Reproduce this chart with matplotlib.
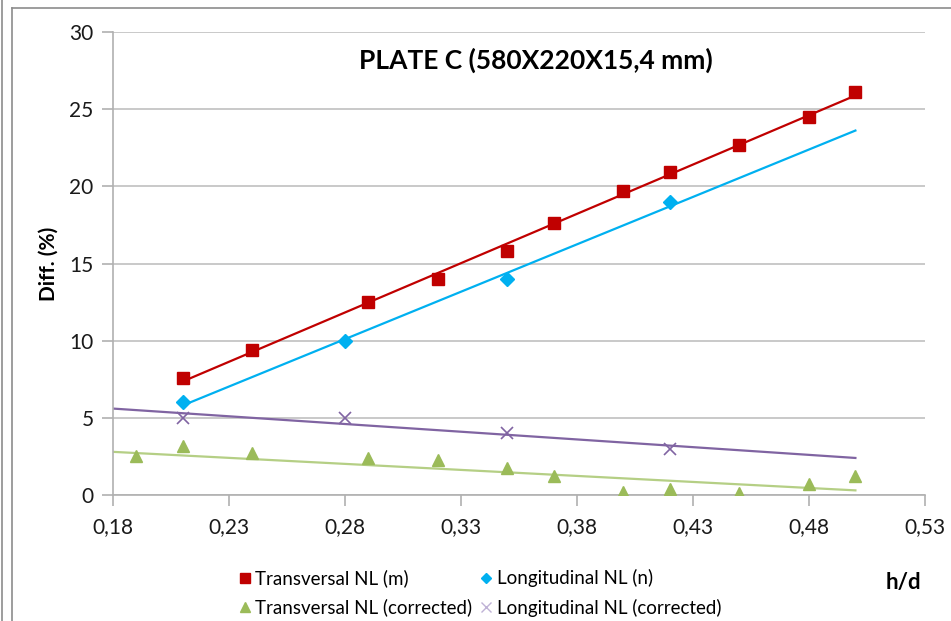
import numpy as np
import matplotlib
matplotlib.use("Agg")
import matplotlib.pyplot as plt
from matplotlib.lines import Line2D
from matplotlib.ticker import FuncFormatter, MultipleLocator

plt.rcParams['font.family'] = ['Lato', 'DejaVu Sans']

# Data
trans_x = [0.21, 0.24, 0.29, 0.32, 0.35, 0.37, 0.40, 0.42, 0.45, 0.48, 0.50]
trans_y = [7.6, 9.4, 12.5, 14.0, 15.8, 17.6, 19.7, 20.9, 22.7, 24.5, 26.1]
long_x = [0.21, 0.28, 0.35, 0.42]
long_y = [6.0, 10.0, 14.0, 19.0]
trans_corr_x = [0.19, 0.21, 0.24, 0.29, 0.32, 0.35, 0.37, 0.40, 0.42, 0.45, 0.48, 0.50]
trans_corr_y = [2.5, 3.2, 2.75, 2.4, 2.25, 1.75, 1.2, 0.2, 0.4, 0.13, 0.73, 1.2]
long_corr_x = [0.21, 0.28, 0.35, 0.42]
long_corr_y = [5.0, 5.0, 4.0, 3.0]
# trendline of the transversal corrected series (slope, intercept)
trans_corr_trend = (-7.8, 4.2)

labels = ["Transversal NL (m)", "Longitudinal NL (n)",
          "Transversal NL (corrected)", "Longitudinal NL (corrected)"]
title = "PLATE C (580X220X15,4 mm)"

RED = "#C00000"
BLUE = "#00B0F0"
GREEN = "#9BBB59"
PURPLE = "#8064A2"

W, H = 951, 621
fig = plt.figure(figsize=(W / 100, H / 100), dpi=100)
ax = fig.add_axes([113 / W, 1 - 495 / H, (925 - 113) / W, (495 - 32) / H])

def trend_line(k, b, x0, x1, color):
    xx = np.array([x0, x1])
    ax.plot(xx, k * xx + b, color=color, lw=1.6, zorder=2)

def trend(xs, ys, x0, x1, color):
    k, b = np.polyfit(xs, ys, 1)
    trend_line(k, b, x0, x1, color)

trend(trans_x, trans_y, min(trans_x), max(trans_x), RED)
trend(long_x, long_y, min(long_x), 0.50, BLUE)
trend_line(trans_corr_trend[0], trans_corr_trend[1], 0.18, 0.50, "#B5CF85")
trend(long_corr_x, long_corr_y, 0.18, 0.50, PURPLE)

h1, = ax.plot(trans_x, trans_y, ls='none', marker='s', ms=9, color=RED, zorder=3)
h2, = ax.plot(long_x, long_y, ls='none', marker='D', ms=7, color=BLUE, zorder=3)
h3, = ax.plot(trans_corr_x, trans_corr_y, ls='none', marker='^', ms=9, color=GREEN, zorder=3)
h4, = ax.plot(long_corr_x, long_corr_y, ls='none', marker='x', ms=9, mew=1.2, color=PURPLE, zorder=3)
h4_leg = Line2D([], [], ls='none', marker='x', ms=9, mew=1.0, color='#BFB2D6')

ax.set_xlim(0.18, 0.53)
ax.set_ylim(0, 30)
ax.yaxis.set_major_locator(MultipleLocator(5))
ax.set_xticks(np.arange(0.18, 0.5301, 0.05))
ax.xaxis.set_major_formatter(FuncFormatter(lambda v, p: f"{v:.2f}".replace('.', ',')))
ax.yaxis.set_major_formatter(FuncFormatter(lambda v, p: f"{v:.0f}"))
ax.grid(axis='y', color='#C0C0C0', lw=1.2)
ax.set_axisbelow(True)
for s in ['top', 'right']:
    ax.spines[s].set_visible(False)
for s in ['left', 'bottom']:
    ax.spines[s].set_color('#B0B0B0')
    ax.spines[s].set_linewidth(1.2)
ax.tick_params(axis='both', colors='#B0B0B0', length=8, width=1.2, labelcolor='#1a1a1a',
               labelsize=15)
ax.tick_params(axis='x', pad=8)
ax.tick_params(axis='y', pad=6)

ax.set_ylabel("Diff. (%)", fontsize=15, fontweight='bold', labelpad=8)
fig.text(536 / W, 1 - 60 / H, title, fontsize=19, fontweight='bold', ha='center', va='center')
fig.text(903 / W, 1 - 582 / H, "h/d", fontsize=16, fontweight='bold', ha='center', va='center')

fig.legend([h1, h3, h2, h4_leg], [labels[0], labels[2], labels[1], labels[3]],
           ncol=2, loc='upper left', bbox_to_anchor=(230 / W, 1 - 560 / H),
           frameon=False, fontsize=13.5, handlelength=0.55, handletextpad=0.3,
           columnspacing=0.45, labelspacing=0.6, markerscale=0.75, borderpad=0)

# chart borders
bc = '#8C8C8C'
fig.add_artist(Line2D([12 / W, 12 / W], [0, 1 - 8 / H], color=bc, lw=1.2, transform=fig.transFigure))
fig.add_artist(Line2D([12 / W, 1], [1 - 8 / H, 1 - 8 / H], color=bc, lw=1.2, transform=fig.transFigure))
fig.add_artist(Line2D([1.5 / W, 1.5 / W], [0, 1], color=bc, lw=1.2, transform=fig.transFigure))

fig.savefig("out.png", dpi=100)
